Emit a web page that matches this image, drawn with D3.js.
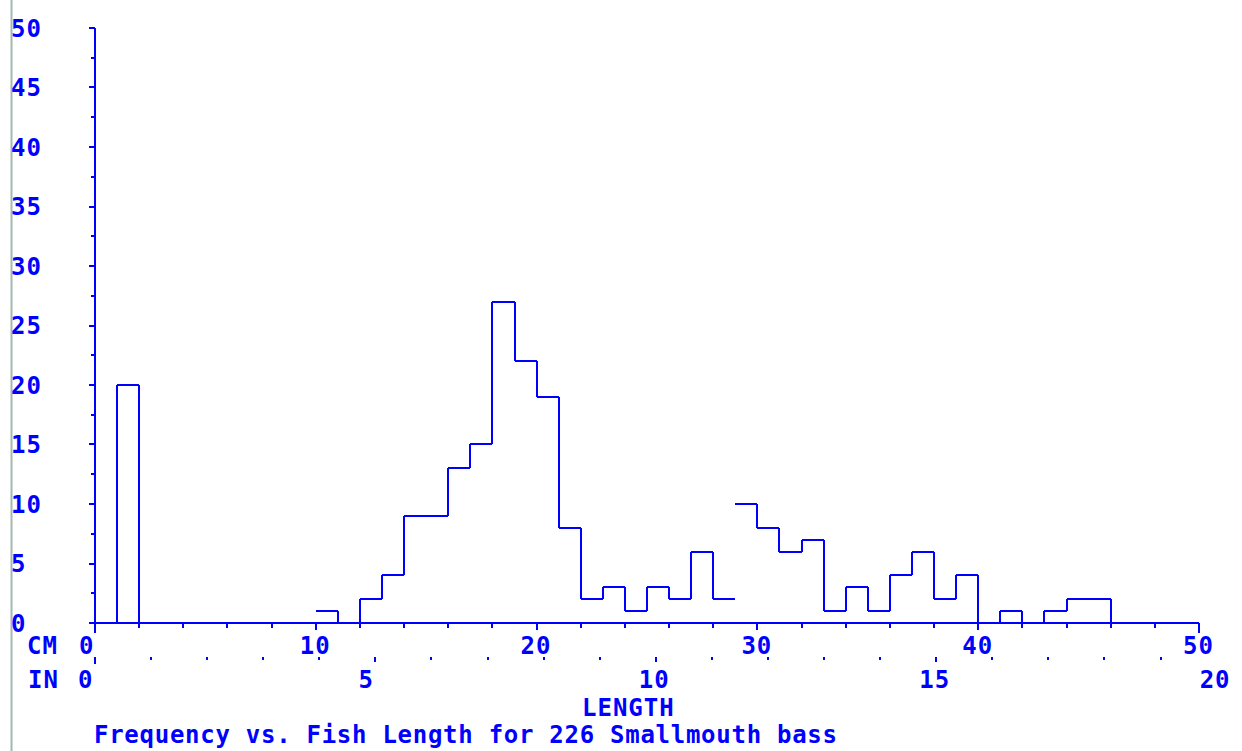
<!DOCTYPE html>
<html>
<head>
<meta charset="utf-8">
<script src="https://cdn.jsdelivr.net/npm/d3@7"></script>
<style>
	body { margin: 0; background: white; }
	svg { display: block; }
	text { font-family: "DejaVu Sans Mono", "Liberation Mono", monospace; font-weight: bold; font-size: 24px; fill: #0000ff; letter-spacing: 1px; }
</style>
</head>
<body>
<script>
// fish counts per 1 cm length bin, bins start at 0 cm
const binStart = d3.range(0, 46);
const counts = [0, 20, 0, 0, 0, 0, 0, 0, 0, 0,
				1, 0, 2, 4, 9, 9, 13, 15, 27, 22,
				19, 8, 2, 3, 1, 3, 2, 6, 2, 10,
				8, 6, 7, 1, 3, 1, 4, 6, 2, 4,
				0, 1, 0, 1, 2, 2];
// bin edges where the plotter left out the riser
const missingRisers = [10, 29];

const yTicks = [0, 5, 10, 15, 20, 25, 30, 35, 40, 45, 50];
const cmTicks = [0, 10, 20, 30, 40, 50];
const inTicks = [0, 5, 10, 15, 20];

const xLabel = "LENGTH";
const title = "Frequency vs. Fish Length for 226 Smallmouth bass";

const w = 1242;
const h = 751;
const blue = "#0000ff";

const svg = d3.select("body")
				.append("svg")
				.attr("width", w)
				.attr("height", h);

const x = d3.scaleLinear().domain([0, 50]).range([95, 1199]);
const xIn = d3.scaleLinear().domain([0, 50 / 2.54]).range([95, 1199]);
const y = d3.scaleLinear().domain([0, 50]).range([623, 28]);

// window border on the left
svg.append("line")
	.attr("x1", 11.5).attr("x2", 11.5)
	.attr("y1", 0).attr("y2", h)
	.attr("stroke", "#a3b9ae")
	.attr("stroke-width", 2);

const g = svg.append("g")
	.attr("stroke", blue)
	.attr("stroke-width", 2)
	.attr("fill", "none")
	.attr("shape-rendering", "crispEdges");

// axes
g.append("line")
	.attr("x1", x(0)).attr("x2", x(0))
	.attr("y1", y(50)).attr("y2", y(0));
g.append("line")
	.attr("x1", x(0) - 6).attr("x2", x(50))
	.attr("y1", y(0)).attr("y2", y(0));

// y ticks every 2.5
g.selectAll(".ytick")
	.data(d3.range(0, 50.1, 2.5))
	.enter()
	.append("line")
	.attr("class", "ytick")
	.attr("x1", (d) => d % 5 === 0 ? x(0) - 6 : x(0) - 4)
	.attr("x2", x(0))
	.attr("y1", (d) => Math.round(y(d)))
	.attr("y2", (d) => Math.round(y(d)));

// cm ticks every 2
g.selectAll(".cmtick")
	.data(d3.range(0, 50.1, 2))
	.enter()
	.append("line")
	.attr("class", "cmtick")
	.attr("x1", (d) => Math.round(x(d)))
	.attr("x2", (d) => Math.round(x(d)))
	.attr("y1", y(0))
	.attr("y2", (d) => {
		if (d === 0 || d === 50) return y(0) + 10;
		if (d % 10 === 0) return y(0) + 7;
		return y(0) + 5;
	});

// inch ticks, little dots
g.selectAll(".intick")
	.data(d3.range(0, 20))
	.enter()
	.append("line")
	.attr("class", "intick")
	.attr("x1", (d) => Math.round(xIn(d)))
	.attr("x2", (d) => Math.round(xIn(d)))
	.attr("y1", 657)
	.attr("y2", (d) => {
		if (d === 0) return 664;
		if (d % 5 === 0) return 662;
		return 660;
	});

// histogram outline
let steps = "";
binStart.forEach((b, i) => {
	const prev = i === 0 ? 0 : counts[i - 1];
	const c = counts[i];
	if (prev !== c && !missingRisers.includes(b)) {
		steps += "M" + Math.round(x(b)) + "," + Math.round(y(prev)) + "V" + Math.round(y(c));
	}
	if (c > 0) {
		steps += "M" + Math.round(x(b)) + "," + Math.round(y(c)) + "H" + Math.round(x(b + 1));
	}
});
const lastBin = binStart[binStart.length - 1];
steps += "M" + Math.round(x(lastBin + 1)) + "," + Math.round(y(counts[counts.length - 1])) + "V" + Math.round(y(0));

g.append("path")
	.attr("d", steps);

// y labels
svg.selectAll(".ylab")
	.data(yTicks)
	.enter()
	.append("text")
	.attr("class", "ylab")
	.attr("x", 11)
	.attr("y", (d) => y(d) + 8.5)
	.text((d) => d);

// cm labels
svg.append("text")
	.attr("x", 27)
	.attr("y", 654)
	.text("CM");
svg.selectAll(".cmlab")
	.data(cmTicks)
	.enter()
	.append("text")
	.attr("class", "cmlab")
	.attr("x", (d) => x(d) - 16)
	.attr("y", 654)
	.text((d) => d);

// inch labels
svg.append("text")
	.attr("x", 28)
	.attr("y", 688)
	.text("IN");
svg.selectAll(".inlab")
	.data(inTicks)
	.enter()
	.append("text")
	.attr("class", "inlab")
	.attr("x", (d) => xIn(d) - 17)
	.attr("y", 688)
	.text((d) => d);

svg.append("text")
	.attr("x", 582)
	.attr("y", 716)
	.text(xLabel);

svg.append("text")
	.attr("x", 94)
	.attr("y", 743)
	.attr("textLength", 744)
	.attr("lengthAdjust", "spacing")
	.text(title);
</script>
</body>
</html>
